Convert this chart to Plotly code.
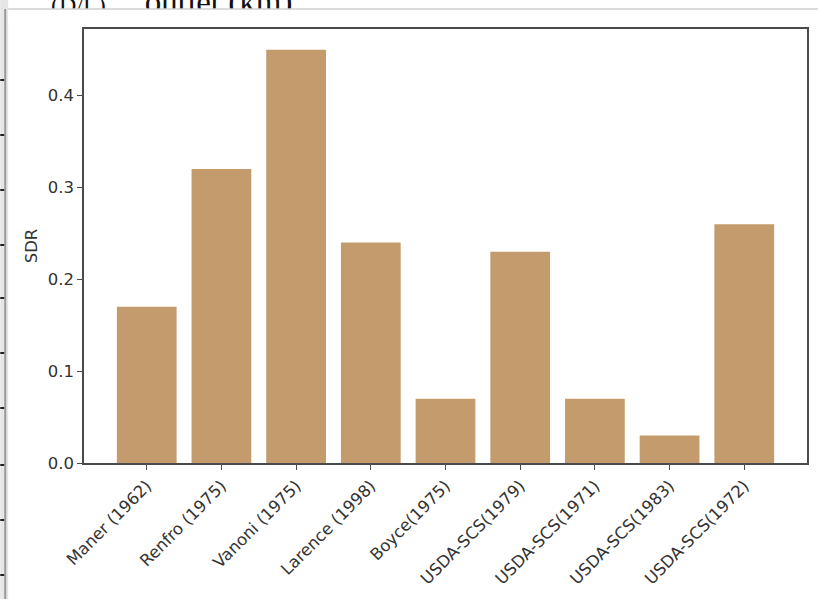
import plotly.graph_objects as go

# Sediment delivery ratio by method
methods = [
    "Maner (1962)", "Renfro (1975)", "Vanoni (1975)", "Larence (1998)",
    "Boyce(1975)", "USDA-SCS(1979)", "USDA-SCS(1971)", "USDA-SCS(1983)",
    "USDA-SCS(1972)",
]
sdr = [0.17, 0.32, 0.45, 0.24, 0.07, 0.23, 0.07, 0.03, 0.26]
y_ticks = [0.0, 0.1, 0.2, 0.3, 0.4]

W, H = 820, 599
L, R, T, B = 84, 11, 29, 136
PW, PH = W - L - R, H - T - B


def px(x):
    return (x - L) / PW


def py(y):
    return (H - B - y) / PH


BAR = "#C49B6C"
INK = "#333333"
SPINE = "#4a4a4a"
FONT = "DejaVu Sans"
FS = 16.5

fig = go.Figure(go.Bar(x=methods, y=sdr, marker=dict(color=BAR, line=dict(width=0))))

shapes = [
    # surrounding page edge on the left
    dict(type="rect", xref="paper", yref="paper", x0=px(0), x1=px(8), y0=py(H), y1=py(0),
         fillcolor="#e6e6e6", line=dict(width=0), layer="below"),
    dict(type="line", xref="paper", yref="paper", x0=px(5), x1=px(5), y0=py(H), y1=py(9),
         line=dict(color="#9a9a9a", width=2)),
    # page text running behind the figure panel
    dict(type="rect", xref="paper", yref="paper", x0=px(142), x1=px(440), y0=py(17), y1=py(-40),
         line=dict(width=0), fillcolor="rgba(0,0,0,0)", layer="above",
         label=dict(text="outlet (km)", textposition="bottom left", padding=0,
                    font=dict(family="Liberation Serif", size=33, color="#111111"))),
    dict(type="rect", xref="paper", yref="paper", x0=px(48), x1=px(140), y0=py(15), y1=py(-40),
         line=dict(width=0), fillcolor="rgba(0,0,0,0)", layer="above",
         label=dict(text="(D/L)", textposition="bottom left", padding=0,
                    font=dict(family="Liberation Serif", size=24, color="#111111"))),
    # white figure panel covering the lower part of that text
    dict(type="rect", xref="paper", yref="paper", x0=px(8), x1=px(W), y0=py(27), y1=py(9),
         fillcolor="#ffffff", line=dict(width=0), layer="above"),
    dict(type="line", xref="paper", yref="paper", x0=px(8), x1=px(W), y0=py(9), y1=py(9),
         line=dict(color="#d0d0d0", width=1.5), layer="above"),
]
# tick marks of the page ruler at the left edge
for yy in [80, 135, 190, 245, 298, 353, 408, 465, 520, 575]:
    shapes.append(dict(type="line", xref="paper", yref="paper", x0=px(0), x1=px(4),
                       y0=py(yy), y1=py(yy), line=dict(color="#222222", width=2)))

fig.update_layout(
    width=W, height=H,
    margin=dict(l=L, r=R, t=T, b=B, pad=0),
    paper_bgcolor="white", plot_bgcolor="white",
    bargap=0.2, showlegend=False,
    font=dict(family=FONT, size=FS, color=INK),
    shapes=shapes,
)
fig.update_xaxes(
    range=[-0.84, 8.84], tickangle=-45,
    showline=True, linecolor=SPINE, linewidth=1.5, mirror=True,
    ticks="outside", ticklen=5, tickwidth=1.2, tickcolor=SPINE,
    tickfont=dict(family=FONT, size=FS, color=INK), showgrid=False,
)
fig.update_yaxes(
    range=[0, 0.4725], tickvals=y_ticks, tickformat=".1f",
    showline=True, linecolor=SPINE, linewidth=1.5, mirror=True,
    ticks="outside", ticklen=5, tickwidth=1.2, tickcolor=SPINE,
    tickfont=dict(family=FONT, size=FS, color=INK), showgrid=False, zeroline=False,
    title=dict(text="SDR", font=dict(family=FONT, size=FS, color=INK), standoff=6),
)

fig.write_html("out.html")
